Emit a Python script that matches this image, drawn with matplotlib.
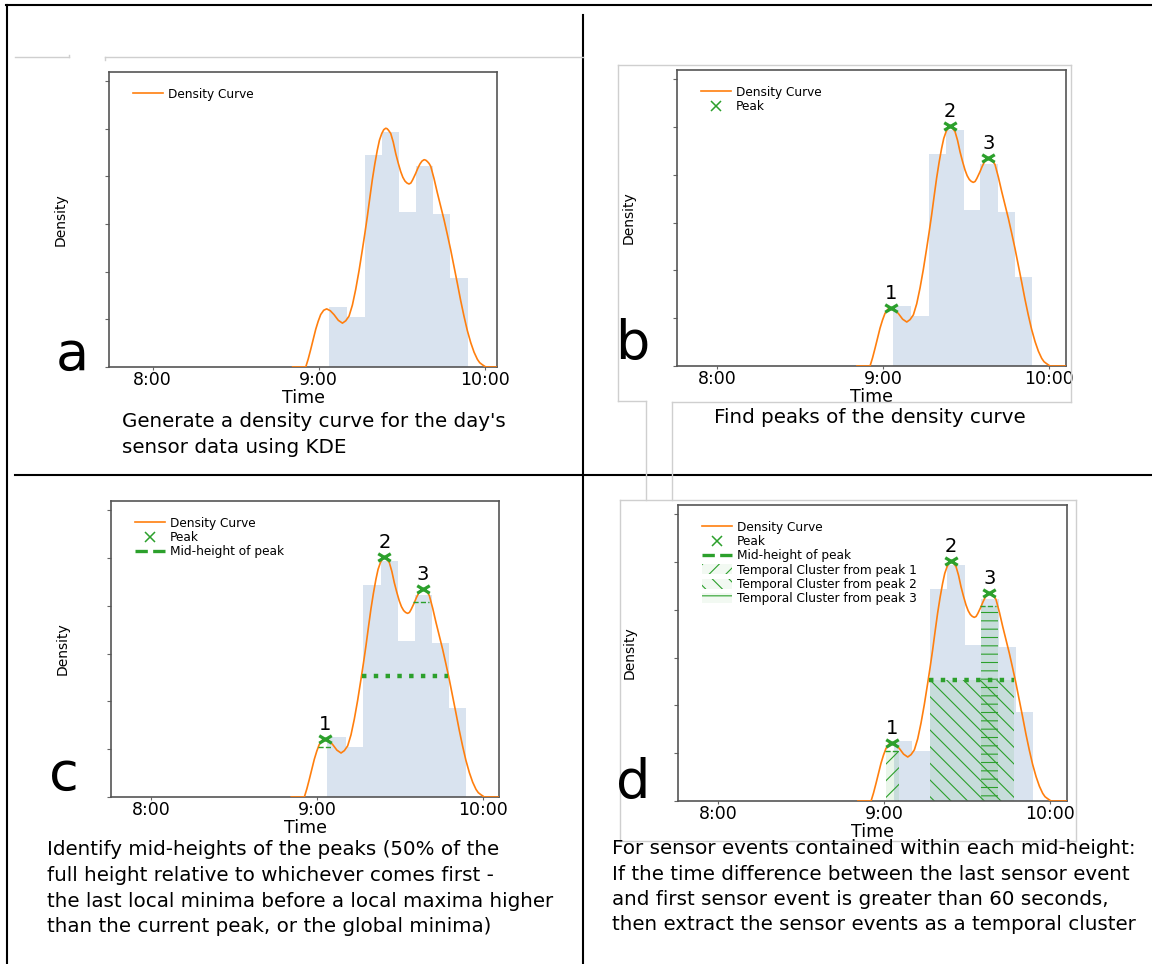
import matplotlib
matplotlib.use("Agg")
import matplotlib.pyplot as plt
import numpy as np
from matplotlib.colors import to_rgba
from matplotlib.lines import Line2D
from matplotlib.patches import Patch
from matplotlib.path import Path

W, H = 1152, 964

# histogram of the day's sensor events (time in hours, density)
bin_edges = [9.060, 9.171, 9.277, 9.382, 9.486, 9.586, 9.691, 9.793, 9.897]
bin_heights = [1.255, 1.04, 4.44, 4.94, 3.26, 4.22, 3.22, 1.86]

# KDE density curve
curve_t = [8.843, 8.922, 8.937, 8.952, 8.967, 8.982, 8.997, 9.012, 9.030, 9.048,
           9.070, 9.092, 9.118, 9.143, 9.163, 9.183, 9.203, 9.223, 9.243, 9.263,
           9.278, 9.293, 9.308, 9.323, 9.338, 9.353, 9.366, 9.380, 9.392, 9.404,
           9.412, 9.420, 9.434, 9.449, 9.464, 9.479, 9.494, 9.507, 9.520, 9.532,
           9.544, 9.555, 9.565, 9.584, 9.597, 9.610, 9.622, 9.635, 9.645, 9.655,
           9.665, 9.675, 9.695, 9.715, 9.735, 9.755, 9.775, 9.795, 9.815, 9.835,
           9.855, 9.875, 9.895, 9.916, 9.936, 9.956, 9.970, 9.985, 10.006, 10.098]
curve_d = [0.0, 0.0, 0.17, 0.37, 0.58, 0.79, 0.96, 1.10, 1.19, 1.22,
           1.18, 1.10, 0.98, 0.92, 0.97, 1.07, 1.30, 1.63, 2.02, 2.46,
           2.80, 3.16, 3.55, 3.93, 4.26, 4.55, 4.76, 4.90, 4.98, 5.01,
           5.00, 4.97, 4.90, 4.72, 4.48, 4.28, 4.10, 3.98, 3.90, 3.86,
           3.84, 3.86, 3.92, 4.06, 4.17, 4.26, 4.32, 4.35, 4.34, 4.31,
           4.27, 4.21, 3.95, 3.65, 3.37, 3.09, 2.78, 2.46, 2.11, 1.76,
           1.40, 1.07, 0.77, 0.51, 0.31, 0.16, 0.09, 0.05, 0.0, 0.0]

peak_t = [9.048, 9.404, 9.635]
peak_d = [1.22, 5.01, 4.35]
peak_names = ["1", "2", "3"]

# mid-heights of the peaks
mid_d = [1.05, 2.52, 4.08]
mid_start = [9.006, 9.271, 9.578]
mid_end = [9.082, 9.785, 9.675]

# temporal clusters extracted from each mid-height
cluster_start = [9.012, 9.277, 9.584]
cluster_end = [9.092, 9.785, 9.685]
cluster_top = [1.05, 2.52, 4.08]

tick_hours = [8, 9, 10]
tick_labels = ["8:00", "9:00", "10:00"]

captions = {
    "a": ["Generate a density curve for the day's",
          "sensor data using KDE"],
    "b": ["Find peaks of the density curve"],
    "c": ["Identify mid-heights of the peaks (50% of the",
          "full height relative to whichever comes first -",
          "the last local minima before a local maxima higher",
          "than the current peak, or the global minima)"],
    "d": ["For sensor events contained within each mid-height:",
          "If the time difference between the last sensor event",
          "and first sensor event is greater than 60 seconds,",
          "then extract the sensor events as a temporal cluster"],
}

ORANGE = "#ff7f0e"
GREEN = "#2ca02c"
HIST = "#d9e3ef"
PX_PER_HOUR = 166

# panel boxes in pixels: left, top, right, bottom; x9 = pixel of 9:00
layout = {
    "a": dict(box=(109, 72, 497, 367), x9=318.7, letter=(56, 370),
              cap=(122, [427, 453], "left")),
    "b": dict(box=(677, 70, 1066, 366), x9=883, letter=(615, 359),
              cap=(870, [423], "center")),
    "c": dict(box=(111, 501, 499, 797), x9=317.3, letter=(49, 790),
              cap=(47, [855, 881, 907, 932], "left")),
    "d": dict(box=(678, 505, 1067, 801), x9=884, letter=(616, 798),
              cap=(612, [854, 880, 905, 930], "left")),
}

plt.rcParams["hatch.linewidth"] = 0.8

fig = plt.figure(figsize=(W / 100, H / 100), dpi=100)


def fx(x):
    return x / W


def fy(y):
    return 1 - y / H


def fig_line(x1, y1, x2, y2, color="black", lw=1.5):
    fig.add_artist(Line2D([fx(x1), fx(x2)], [fy(y1), fy(y2)],
                          transform=fig.transFigure, color=color, lw=lw))


# screenshot frame and grid lines
fig_line(6, 5, 1152, 5)
fig_line(7, 5, 7, 964)
fig_line(583, 15, 583, 964)
fig_line(15, 474.5, 1152, 474.5)

# faint leftovers from the screenshot crops
grey = "#cfcfcf"
fig_line(15, 57, 69, 57, grey, 1)
fig_line(69, 55, 69, 57, grey, 1)
fig_line(105, 57, 583, 57, grey, 1)
fig_line(105, 57, 105, 60, grey, 1)
fig_line(618, 65, 1071, 65, grey, 1)
fig_line(618, 65, 618, 401, grey, 1)
fig_line(1071, 65, 1071, 402, grey, 1)
fig_line(618, 401, 646, 401, grey, 1)
fig_line(672, 402, 1071, 402, grey, 1)
fig_line(646, 401, 646, 500, grey, 1)
fig_line(672, 402, 672, 500, grey, 1)
fig_line(620, 500, 1076, 500, grey, 1)
fig_line(620, 500, 620, 841, grey, 1)
fig_line(1076, 500, 1076, 841, grey, 1)
fig_line(620, 841, 1076, 841, grey, 1)

xmark = Path([(-1, -0.6), (1, 0.6), (-1, 0.6), (1, -0.6)],
             [Path.MOVETO, Path.LINETO, Path.MOVETO, Path.LINETO])
mid_styles = [dict(ls="--", lw=1.0), dict(ls=":", lw=3.2), dict(ls="--", lw=1.0)]
hatches = ["//", "\\\\", "--"]

for key, cfg in layout.items():
    l, t, r, b = cfg["box"]
    ax = fig.add_axes([fx(l), fy(b), (r - l) / W, (b - t) / H])
    x9 = cfg["x9"]
    ax.set_xlim(9 - (x9 - l) / PX_PER_HOUR, 9 + (r - x9) / PX_PER_HOUR)
    ax.set_ylim(0, 6.19)

    ax.bar(bin_edges[:-1], bin_heights, width=np.diff(bin_edges), align="edge",
           color=HIST, linewidth=0, zorder=1)
    handles = []
    line, = ax.plot(curve_t, curve_d, color=ORANGE, lw=1.2, zorder=3,
                    label="Density Curve")
    handles.append(line)

    if key in "bcd":
        ax.plot(peak_t, peak_d, ls="none", marker=xmark, ms=9, mew=2.3,
                color=GREEN, zorder=5)
        for pt, pd_, name in zip(peak_t, peak_d, peak_names):
            ax.annotate(name, (pt, pd_), xytext=(0, 9), textcoords="offset pixels",
                        ha="center", va="baseline", fontsize=14)
        handles.append(Line2D([], [], ls="none", marker="x", ms=7, mew=1.1,
                              color=GREEN, label="Peak"))

    if key in "cd":
        for y, x0, x1, st in zip(mid_d, mid_start, mid_end, mid_styles):
            ax.hlines(y, x0, x1, color=GREEN, zorder=4, **st)
        handles.append(Line2D([], [], color=GREEN, ls="--", lw=2.4,
                              label="Mid-height of peak"))

    if key == "d":
        for i in range(len(cluster_start)):
            ax.bar(cluster_start[i], cluster_top[i],
                   width=cluster_end[i] - cluster_start[i], align="edge",
                   facecolor=to_rgba(GREEN, 0.1), edgecolor=GREEN, linewidth=0,
                   hatch=hatches[i], zorder=2)
            handles.append(Patch(facecolor=to_rgba(GREEN, 0.06), edgecolor=GREEN,
                                 linewidth=0, hatch=hatches[i],
                                 label=f"Temporal Cluster from peak {i + 1}"))

    axw, axh = r - l, b - t
    ax.legend(handles=handles, loc="upper left",
              bbox_to_anchor=(24 / axw, 1 - 16 / axh), borderaxespad=0,
              borderpad=0, frameon=False, fontsize=8.7, handlelength=2.5,
              handletextpad=0.4, labelspacing=0.1, handleheight=0.9)

    ax.set_xticks(tick_hours, tick_labels)
    ax.set_yticks(range(7))
    ax.tick_params(axis="x", length=2.5, pad=0.5, labelsize=12.5, color="#666666")
    ax.tick_params(axis="y", length=3, labelleft=False, color="#666666")
    for sp in ax.spines.values():
        sp.set_color("#555555")
        sp.set_linewidth(1.2)
    ax.set_xlabel("Time", fontsize=12.5, labelpad=0)
    ax.set_ylabel("Density", fontsize=10, labelpad=27)

    lx, ly = cfg["letter"]
    fig.text(fx(lx), fy(ly), key, fontsize=39, ha="left", va="baseline")

    cx, rows, ha = cfg["cap"]
    for text, yb in zip(captions[key], rows):
        fig.text(fx(cx), fy(yb), text, fontsize=14.3, ha=ha, va="baseline")

fig.savefig("out.png", dpi=100)
